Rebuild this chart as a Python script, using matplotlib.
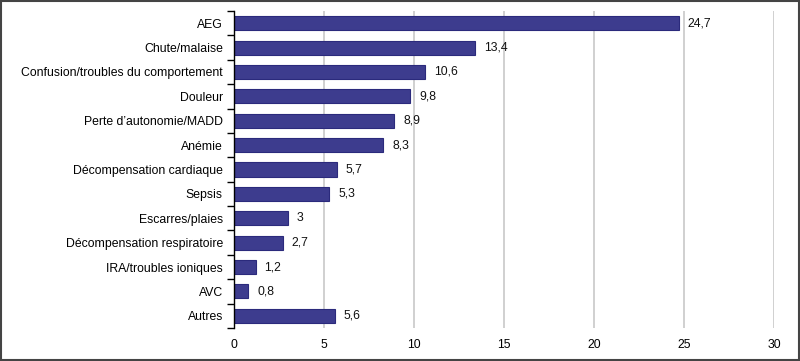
import matplotlib
matplotlib.use("Agg")
import matplotlib.pyplot as plt
import numpy as np

categories = ["AEG", "Chute/malaise", "Confusion/troubles du comportement", "Douleur",
              "Perte d\u2019autonomie/MADD", "Anémie", "Décompensation cardiaque", "Sepsis",
              "Escarres/plaies", "Décompensation respiratoire", "IRA/troubles ioniques",
              "AVC", "Autres"]
values = [24.7, 13.4, 10.6, 9.8, 8.9, 8.3, 5.7, 5.3, 3, 2.7, 1.2, 0.8, 5.6]
xticks = [0, 5, 10, 15, 20, 25, 30]

plt.rcParams['font.family'] = ['Liberation Sans', 'DejaVu Sans']
FS = 8.8

fig = plt.figure(figsize=(8, 3.61), dpi=100)
ax = fig.add_axes([234/800, 1-328/361, 540/800, (328-11)/361])

y = np.arange(len(categories))
ax.barh(y, values, height=0.58, color='#3d3c8e', edgecolor='#2b2a7c', linewidth=0.8, zorder=3)
for yi, v in zip(y, values):
    lab = (f"{v:g}").replace('.', ',')
    ax.text(v + 0.5, yi, lab, va='center', ha='left', fontsize=FS, color='#111111')

ax.set_ylim(len(categories) - 0.5, -0.5)
ax.set_xlim(0, 30)
ax.set_yticks(y)
ax.set_yticklabels(categories, fontsize=FS)
ax.tick_params(axis='y', which='major', length=0, pad=8)
ax.set_yticks(np.arange(-0.5, len(categories), 1), minor=True)
ax.tick_params(axis='y', which='minor', length=5, width=1, color='black', direction='out')
ax.set_xticks(xticks)
ax.set_xticklabels([str(t) for t in xticks], fontsize=FS)
ax.tick_params(axis='x', length=0, pad=8)
ax.grid(axis='x', color='#d0d0d0', linewidth=1.4, zorder=0)
for s in ['top', 'right', 'bottom']:
    ax.spines[s].set_visible(False)
ax.spines['left'].set_color('black')
ax.spines['left'].set_linewidth(1)
ax.spines['left'].set_zorder(4)

fig.patches.append(plt.Rectangle((0.001, 0.002), 0.998, 0.996, transform=fig.transFigure,
                                 fill=False, edgecolor='#444444', linewidth=1.5))
fig.savefig("out.png", dpi=100)
